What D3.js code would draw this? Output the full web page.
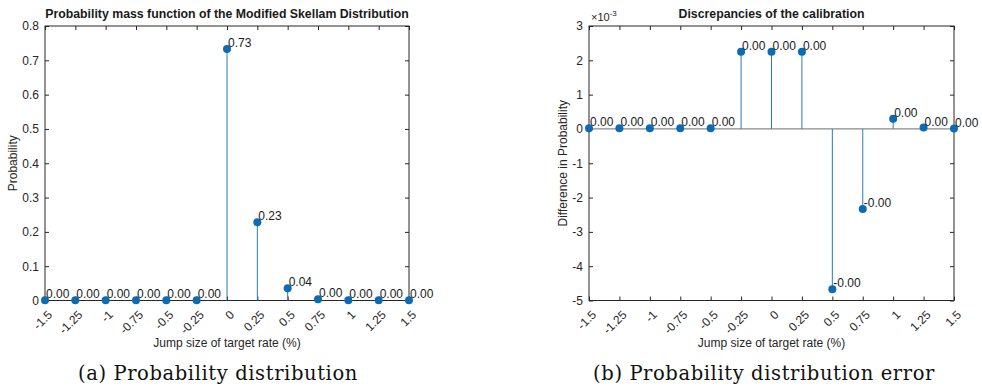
<!DOCTYPE html>
<html lang="en">
<head>
    <meta charset="UTF-8">
    <title>Modified Skellam</title>
    <script src="https://cdnjs.cloudflare.com/ajax/libs/d3/7.8.5/d3.min.js"></script>
    <style>
        body { margin: 0; background: #fff; }
    </style>
</head>
<body>
    <div id="chart"></div>
    <script>
        // data
        const jumps = [-1.5, -1.25, -1, -0.75, -0.5, -0.25, 0, 0.25, 0.5, 0.75, 1, 1.25, 1.5]
        const xTickLabels = ['-1.5', '-1.25', '-1', '-0.75', '-0.5', '-0.25', '0', '0.25', '0.5', '0.75', '1', '1.25', '1.5']
        const pmf = [0.0005, 0.0005, 0.0005, 0.0005, 0.0005, 0.001, 0.733, 0.228, 0.036, 0.004, 0.0005, 0.0005, 0.0005]
        // difference in probability, in units of 1e-3
        const errE3 = [0.02, 0.02, 0.02, 0.02, 0.02, 2.25, 2.25, 2.25, -4.67, -2.33, 0.3, 0.04, 0.01]
        const pmfTicks = [0, 0.1, 0.2, 0.3, 0.4, 0.5, 0.6, 0.7, 0.8]
        const errTicks = [-5, -4, -3, -2, -1, 0, 1, 2, 3]

        const W = 982, H = 389
        const sans = '"Liberation Sans", Arial, sans-serif'
        const serif = '"DejaVu Serif", "Liberation Serif", serif'
        const svg = d3.select('#chart').append('svg')
            .attr('width', W).attr('height', H)
            .attr('font-family', sans)

        const stemColor = '#2a7db3'
        const dotColor = '#0b6cb5'
        const axisColor = '#262626'

        function panel(opt) {
            const x = d3.scaleLinear().domain([-1.5, 1.5]).range([opt.left, opt.right])
            const y = d3.scaleLinear().domain(opt.yDomain).range([opt.bottom, opt.top])
            const g = svg.append('g')

            // box + inner ticks
            g.append('rect')
                .attr('x', opt.left).attr('y', opt.top)
                .attr('width', opt.right - opt.left).attr('height', opt.bottom - opt.top)
                .attr('fill', 'none').attr('stroke', axisColor).attr('stroke-width', 1)

            g.append('g').attr('transform', `translate(0,${opt.bottom})`)
                .call(d3.axisBottom(x).tickValues(jumps).tickSize(-4).tickFormat(''))
                .call(a => a.select('.domain').remove())
            g.append('g').attr('transform', `translate(0,${opt.top})`)
                .call(d3.axisTop(x).tickValues(jumps).tickSize(-4).tickFormat(''))
                .call(a => a.select('.domain').remove())
            g.append('g').attr('transform', `translate(${opt.left},0)`)
                .call(d3.axisLeft(y).tickValues(opt.yTicks).tickSize(-4).tickPadding(6).tickFormat(d => String(d)))
                .call(a => a.select('.domain').remove())
                .call(a => a.selectAll('text').attr('font-size', 12).attr('fill', axisColor)
                    .style('font-family', sans))
            g.append('g').attr('transform', `translate(${opt.right},0)`)
                .call(d3.axisRight(y).tickValues(opt.yTicks).tickSize(-4).tickFormat(''))
                .call(a => a.select('.domain').remove())
            g.selectAll('.tick line').attr('stroke', axisColor)

            // rotated x tick labels
            g.selectAll('.xlab')
                .data(jumps)
                .enter()
                .append('text')
                .attr('class', 'xlab')
                .attr('transform', d => `translate(${x(d) + 8},${opt.bottom + 15}) rotate(-45)`)
                .attr('text-anchor', 'end')
                .attr('font-size', 12)
                .attr('fill', axisColor)
                .text((d, i) => xTickLabels[i])

            // baseline
            if (opt.baseline) {
                g.append('line')
                    .attr('x1', opt.left).attr('x2', opt.right)
                    .attr('y1', y(0)).attr('y2', y(0))
                    .attr('stroke', '#8a8a8a').attr('stroke-width', 1.3)
            }

            // stems
            g.selectAll('.stem')
                .data(opt.values)
                .enter()
                .append('line')
                .attr('x1', (d, i) => x(jumps[i])).attr('x2', (d, i) => x(jumps[i]))
                .attr('y1', y(0)).attr('y2', d => y(d))
                .attr('stroke', stemColor).attr('stroke-width', 1)

            g.selectAll('.dot')
                .data(opt.values)
                .enter()
                .append('circle')
                .attr('cx', (d, i) => x(jumps[i]))
                .attr('cy', d => y(d))
                .attr('r', 4)
                .attr('fill', dotColor)

            g.selectAll('.val')
                .data(opt.values)
                .enter()
                .append('text')
                .attr('x', (d, i) => x(jumps[i]) + 1)
                .attr('y', d => y(d) - 2)
                .attr('font-size', 12)
                .attr('fill', '#1a1a1a')
                .text(d => opt.label(d))

            // titles
            g.append('text')
                .attr('x', (opt.left + opt.right) / 2).attr('y', 18)
                .attr('text-anchor', 'middle')
                .attr('font-size', 12.3).attr('font-weight', 'bold')
                .attr('fill', '#1a1a1a')
                .text(opt.title)

            g.append('text')
                .attr('x', (opt.left + opt.right) / 2).attr('y', 347)
                .attr('text-anchor', 'middle')
                .attr('font-size', 12).attr('fill', axisColor)
                .text('Jump size of target rate (%)')

            g.append('text')
                .attr('transform', `translate(${opt.ylabX},${(opt.top + opt.bottom) / 2}) rotate(-90)`)
                .attr('text-anchor', 'middle')
                .attr('font-size', 12).attr('fill', axisColor)
                .text(opt.ylabel)

            g.append('text')
                .attr('x', opt.capX).attr('y', 380)
                .attr('text-anchor', 'middle')
                .style('font-family', serif)
                .attr('font-size', 19.5)
                .attr('letter-spacing', 0.6)
                .attr('fill', '#111')
                .text(opt.caption)
            return g
        }

        panel({
            left: 45, right: 409, top: 26, bottom: 300.5,
            yDomain: [0, 0.8], yTicks: pmfTicks,
            values: pmf,
            label: d => d.toFixed(2),
            title: 'Probability mass function of the Modified Skellam Distribution',
            ylabel: 'Probability', ylabX: 17,
            caption: '(a) Probability distribution', capX: 218
        })

        const right = panel({
            left: 589, right: 954, top: 26, bottom: 300.5,
            yDomain: [-5, 3], yTicks: errTicks,
            values: errE3,
            baseline: true,
            label: d => (d * 1e-3).toFixed(2),
            title: 'Discrepancies of the calibration',
            ylabel: 'Difference in Probability', ylabX: 567,
            caption: '(b) Probability distribution error', capX: 764
        })

        const ex = right.append('text').attr('x', 591).attr('y', 21)
            .attr('font-size', 11).attr('fill', axisColor)
        ex.append('tspan').text('\u00d710')
        ex.append('tspan').attr('dy', -5).attr('font-size', 8).text('-3')
    </script>
</body>
</html>
